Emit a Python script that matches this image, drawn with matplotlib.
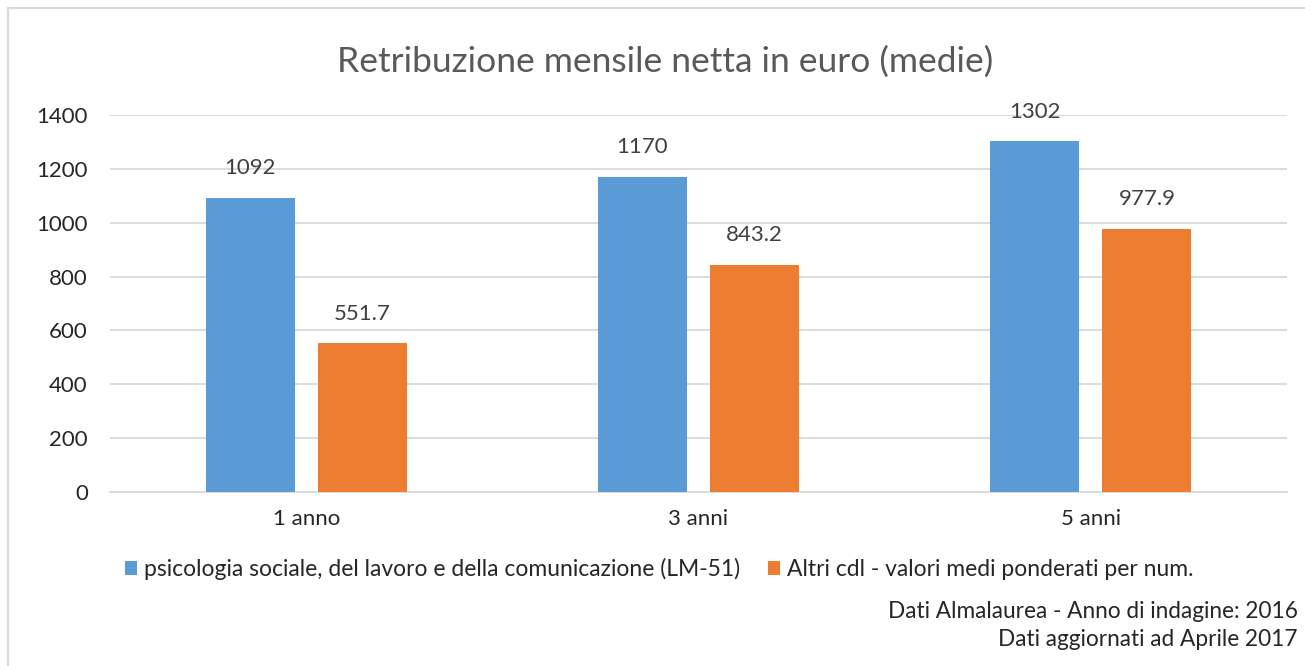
import numpy as np
import matplotlib
matplotlib.use("Agg")
import matplotlib.pyplot as plt
from matplotlib.patches import Rectangle

matplotlib.rc('font', family=['Lato', 'DejaVu Sans'])

categories = ['1 anno', '3 anni', '5 anni']
psicologia = [1092, 1170, 1302]
altri = [551.7, 843.2, 977.9]
labels_psi = ['1092', '1170', '1302']
labels_altri = ['551.7', '843.2', '977.9']
series_names = ['psicologia sociale, del lavoro e della comunicazione (LM-51)',
                'Altri cdl - valori medi ponderati per num.']
yticks = [0, 200, 400, 600, 800, 1000, 1200, 1400]

blue = '#5B9BD5'
orange = '#ED7D31'

fig = plt.figure(figsize=(13.05, 6.66), dpi=100)
# chart frame (only top/left visible in the reference)
fig.patches.append(Rectangle((8/1305, -0.1), 1.2, 1.1 - 8/666, transform=fig.transFigure,
                             fill=False, edgecolor='#D9D9D9', linewidth=1.5))

ax = fig.add_axes([110/1305, 1 - 492/666, (1287 - 110)/1305, (492 - 115)/666])

x = np.arange(len(categories))
w = 0.227
off = 0.143
b1 = ax.bar(x - off, psicologia, w, color=blue, zorder=3, label=series_names[0])
b2 = ax.bar(x + off, altri, w, color=orange, zorder=3, label=series_names[1])

for bars, labs in [(b1, labels_psi), (b2, labels_altri)]:
    for rect, lab in zip(bars, labs):
        ax.annotate(lab, (rect.get_x() + rect.get_width()/2, rect.get_height()),
                    xytext=(0, 21.5), textcoords='offset points', ha='center', va='center',
                    fontsize=16, color='#404040')

ax.set_xlim(-0.5, 2.5)
ax.set_ylim(0, 1400)
ax.set_yticks(yticks)
ax.set_xticks(x)
ax.set_xticklabels(categories)
ax.tick_params(axis='both', length=0, labelsize=16, colors='#262626')
ax.tick_params(axis='y', pad=16)
ax.tick_params(axis='x', pad=12)
ax.grid(axis='y', color='#D9D9D9', linewidth=1.3, zorder=0)
for s in ['top', 'right', 'left']:
    ax.spines[s].set_visible(False)
ax.spines['bottom'].set_color('#D9D9D9')
ax.spines['bottom'].set_linewidth(1.3)

fig.text(665/1305, 1 - 62/666, 'Retribuzione mensile netta in euro (medie)',
         ha='center', va='center', fontsize=25.5, color='#595959')

fig.legend(handles=[b1, b2], loc='center left', bbox_to_anchor=(104/1305, 1 - 569/666),
           ncol=2, frameon=False, fontsize=16.5, handlelength=0.55, handleheight=0.55,
           handletextpad=0.3, columnspacing=1.2, labelcolor='#262626')

fig.text(1298/1305, 1 - 611/666, 'Dati Almalaurea - Anno di indagine: 2016',
         ha='right', va='center', fontsize=16.3, color='#262626')
fig.text(1298/1305, 1 - 640/666, 'Dati aggiornati ad Aprile 2017',
         ha='right', va='center', fontsize=16.3, color='#262626')

fig.savefig('out.png', dpi=100, facecolor='white')
